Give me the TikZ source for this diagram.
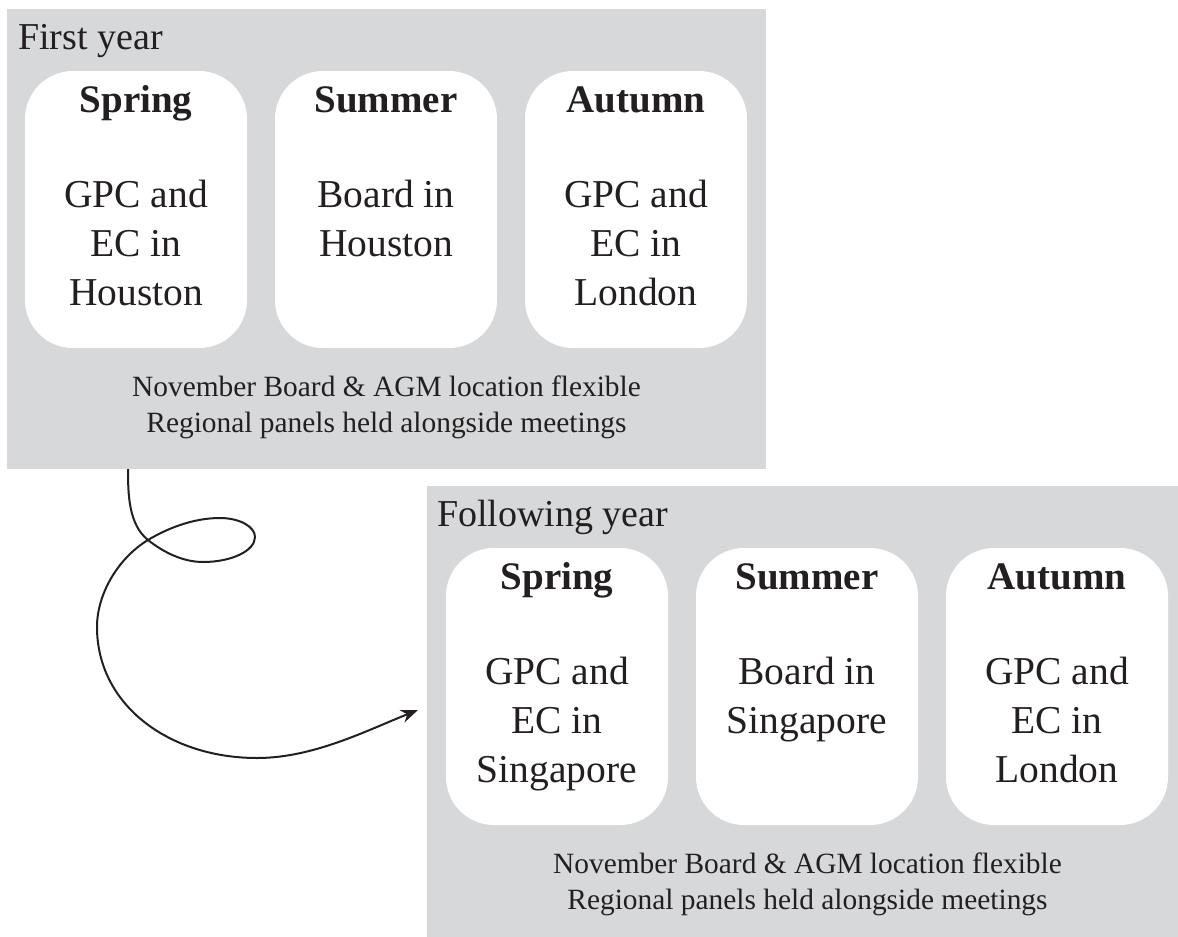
\documentclass[tikz,border=0pt]{standalone}
\usepackage{fontspec}
\setmainfont{Liberation Serif}
\usetikzlibrary{arrows.meta}
\definecolor{panelgrey}{RGB}{215,216,218}
\definecolor{ink}{RGB}{35,31,32}
\tikzset{
  yearbox/.style={fill=panelgrey, draw=none, minimum width=759pt, minimum height=460pt, inner sep=0pt, rectangle},
  seasonbox/.style={fill=white, draw=none, rounded corners=48pt, minimum width=222pt, minimum height=277pt, inner sep=0pt, rectangle},
  titletext/.style={anchor=base west, inner sep=0pt, text=ink, font=\fontsize{38}{46}\selectfont},
  headtext/.style={anchor=base, inner sep=0pt, text=ink, font=\fontsize{39}{46}\selectfont\bfseries},
  bodytext/.style={anchor=base, inner sep=0pt, text=ink, align=center, font=\fontsize{39.5}{49}\selectfont},
  notetext/.style={anchor=base, inner sep=0pt, text=ink, align=center, font=\fontsize{29.4}{36}\selectfont},
  flowline/.style={draw=ink, line width=2pt, -{Stealth[length=17pt,width=13pt]}}
}
\begin{document}
\begin{tikzpicture}[x=1pt,y=-1pt]
\useasboundingbox (0,0) rectangle (1178,937);
\clip (0,0) rectangle (1178,937);
% First year
\node[yearbox] (y1) at (386.5,239) {};
\node[titletext] (t1) at (18,49) {First year};
\node[seasonbox] (sp1) at (136,209.5) {};
\node[seasonbox] (su1) at (386,209.5) {};
\node[seasonbox] (au1) at (636,209.5) {};
\node[headtext] (hsp1) at (136,112) {Spring};
\node[headtext] (hsu1) at (386,112) {Summer};
\node[headtext] (hau1) at (636,112) {Autumn};
\node[bodytext] (bsp1) at (136,305) {GPC and\\EC in\\Houston};
\node[bodytext] (bsu1) at (386,256) {Board in\\Houston};
\node[bodytext] (bau1) at (636,305) {GPC and\\EC in\\London};
\node[notetext] (n1) at (386.5,432) {November Board \& AGM location flexible\\Regional panels held alongside meetings};
% Following year
\node[yearbox] (y2) at (806.5,716) {};
\node[titletext] (t2) at (437,526) {Following year};
\node[seasonbox] (sp2) at (557,686.5) {};
\node[seasonbox] (su2) at (807,686.5) {};
\node[seasonbox] (au2) at (1057,686.5) {};
\node[headtext] (hsp2) at (557,589) {Spring};
\node[headtext] (hsu2) at (807,589) {Summer};
\node[headtext] (hau2) at (1057,589) {Autumn};
\node[bodytext] (bsp2) at (557,782) {GPC and\\EC in\\Singapore};
\node[bodytext] (bsu2) at (807,733) {Board in\\Singapore};
\node[bodytext] (bau2) at (1057,782) {GPC and\\EC in\\London};
\node[notetext] (n2) at (807.5,909) {November Board \& AGM location flexible\\Regional panels held alongside meetings};
% connector
\coordinate (cstart) at (128,469);
\coordinate (cend) at (418,710);
\draw[flowline] (cstart)
  .. controls (128,494) and (128.5,524.4) .. (148,540)
  .. controls (163.6,552.4) and (183,562) .. (203,562)
  .. controls (231.6,562) and (255,550.8) .. (255,537)
  .. controls (255,526.5) and (239.3,518) .. (220,518)
  .. controls (195,518) and (169.4,527.1) .. (148,540)
  .. controls (119,557.5) and (97,593) .. (97,627)
  .. controls (97,705) and (169,758) .. (257,758)
  .. controls (313,758) and (366,730.8) .. (cend);
\end{tikzpicture}
\end{document}
